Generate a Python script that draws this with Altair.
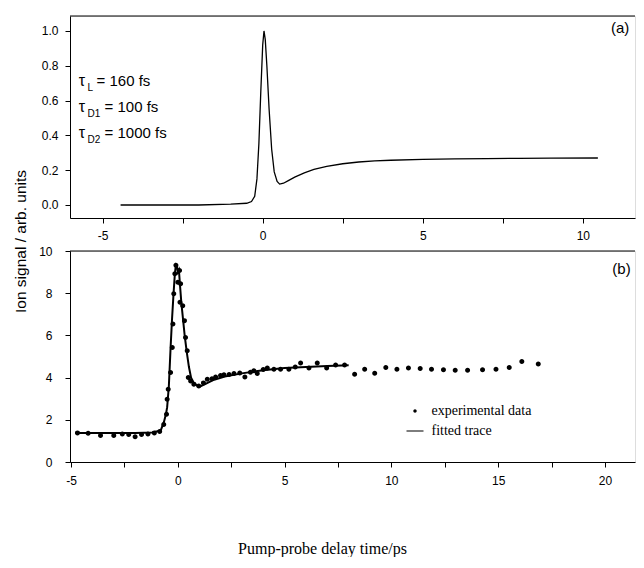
import altair as alt
import pandas as pd

# ---------------- panel (a): simulated trace ----------------
a_t = [-4.44, -3.0, -2.0, -1.0, -0.5, -0.35, -0.25, -0.18, -0.12, -0.06, 0.0, 0.04,
       0.08, 0.13, 0.2, 0.28, 0.36, 0.45, 0.53, 0.65, 0.8, 1.0, 1.3, 1.6, 2.0, 2.5,
       3.0, 3.5, 4.0, 5.0, 6.0, 7.0, 8.0, 9.0, 10.47]
a_s = [0.0, 0.0, 0.0, 0.005, 0.01, 0.02, 0.05, 0.15, 0.35, 0.65, 0.92, 1.0,
       0.95, 0.8, 0.55, 0.32, 0.19, 0.135, 0.12, 0.125, 0.14, 0.16, 0.185, 0.205, 0.222, 0.237,
       0.247, 0.253, 0.257, 0.262, 0.265, 0.267, 0.268, 0.269, 0.27]

# ---------------- panel (b): fitted trace ----------------
fit_t = [-4.8, -3.0, -2.0, -1.2, -0.8, -0.65, -0.55, -0.5, -0.42, -0.34, -0.27, -0.2,
         -0.14, -0.09, -0.04, 0.0, 0.05, 0.1, 0.16, 0.24, 0.32, 0.42, 0.52, 0.62, 0.75,
         0.9, 1.05, 1.3, 1.7, 2.2, 3.0, 4.0, 5.0, 6.0, 7.0, 8.0]
fit_s = [1.38, 1.38, 1.38, 1.4, 1.5, 1.9, 2.3, 2.6, 3.6, 5.4, 6.8, 8.0,
         8.9, 9.35, 9.3, 9.0, 9.1, 8.4, 7.6, 6.8, 6.0, 5.2, 4.5, 4.0, 3.75,
         3.62, 3.58, 3.7, 3.9, 4.05, 4.2, 4.35, 4.45, 4.5, 4.55, 4.58]

# ---------------- panel (b): experimental data ----------------
exp_t = [-4.7, -4.2, -3.62, -3.0, -2.6, -2.3, -2.0, -1.7, -1.4, -1.1, -0.85, -0.66,
         -0.53, -0.5, -0.45, -0.34, -0.26, -0.23, -0.19, -0.14, -0.09, 0.0, 0.08, 0.13,
         0.1, 0.23, 0.31, 0.36, 0.44, 0.49, 0.6, 0.75, 0.98, 1.2, 1.38, 1.6, 1.77, 2.0,
         2.16, 2.4, 2.63, 2.9, 3.14, 3.4, 3.56, 3.72, 4.0, 4.19, 4.5, 4.81, 5.2, 5.5,
         5.75, 6.14, 6.53, 6.97, 7.39, 7.81, 8.28, 8.75, 9.22, 9.74, 10.26, 10.8, 11.35,
         11.88, 12.44, 12.99, 13.57, 14.27, 14.9, 15.52, 16.11, 16.88]
exp_s = [1.38, 1.36, 1.26, 1.26, 1.33, 1.3, 1.2, 1.3, 1.33, 1.38, 1.45, 1.78,
         2.26, 2.97, 3.45, 4.24, 5.43, 6.54, 7.97, 8.92, 9.32, 8.52, 9.08, 8.45,
         7.57, 7.41, 6.7, 5.9, 5.27, 4.0, 3.84, 3.69, 3.6, 3.75, 3.92, 3.95, 4.03, 4.1,
         4.13, 4.15, 4.19, 4.22, 4.03, 4.25, 4.32, 4.19, 4.38, 4.45, 4.4, 4.4, 4.4, 4.5,
         4.69, 4.45, 4.69, 4.45, 4.6, 4.6, 4.16, 4.4, 4.21, 4.48, 4.4, 4.45, 4.43,
         4.4, 4.37, 4.35, 4.35, 4.37, 4.4, 4.48, 4.76, 4.64]

# ---------------- annotations ----------------
tau_sym = ["τ", "τ", "τ"]
tau_sub = ["L", "D1", "D2"]
tau_rest = ["= 160 fs", "= 100 fs", "= 1000 fs"]
tau_y = [0.713, 0.563, 0.414]
tau_sub_y = [0.672, 0.522, 0.373]
tau_x = [-5.75, -5.75, -5.75]
tau_sub_x = [-5.47, -5.47, -5.47]
tau_rest_x = [-5.19, -4.94, -4.94]

series_names = ["experimental data", "fitted trace"]

SANS = "Liberation Sans"
SERIF = "Liberation Serif"

df_a = pd.DataFrame({"t": a_t, "s": a_s})
df_fit = pd.DataFrame({"t": fit_t, "s": fit_s})
df_exp = pd.DataFrame({"t": exp_t, "s": exp_s, "series": series_names[0]})
df_tau = pd.DataFrame({"x": tau_x, "y": tau_y, "txt": tau_sym})
df_sub = pd.DataFrame({"x": tau_sub_x, "y": tau_sub_y, "txt": tau_sub})
df_rest = pd.DataFrame({"x": tau_rest_x, "y": tau_y, "txt": tau_rest})
df_pa = pd.DataFrame({"x": [10.88], "y": [1.017], "txt": ["(a)"]})
df_pb = pd.DataFrame({"x": [20.35], "y": [9.15], "txt": ["(b)"]})

W = 565
HA = 202
HB = 211
xa = alt.Scale(domain=[-6.02, 11.63], nice=False, zero=False)
ya = alt.Scale(domain=[-0.0747, 1.086], nice=False, zero=False)
xb = alt.Scale(domain=[-5.05, 21.41], nice=False, zero=False)
yb = alt.Scale(domain=[0, 10], nice=False, zero=False)

axis_style = dict(grid=False, domainColor="black", tickColor="black", labelColor="black",
                  labelFont=SANS, labelFontSize=12, tickSize=5, domainWidth=1, tickWidth=1)

xticks_a = [-5, -2.5, 0, 2.5, 5, 7.5, 10]
xticks_b = [-5, -2.5, 0, 2.5, 5, 7.5, 10, 12.5, 15, 17.5, 20]
lbl5 = "datum.value % 5 == 0 ? '' + datum.value : ''"


def top_border(width):
    return alt.Chart(pd.DataFrame({"k": [0]})).mark_rule(color="black", strokeWidth=1).encode(
        x=alt.value(0), x2=alt.value(width), y=alt.value(0))


# ---------- top chart ----------
line_a = alt.Chart(df_a).mark_line(color="black", strokeWidth=1.3).encode(
    x=alt.X("t:Q", scale=xa, axis=alt.Axis(orient="bottom", values=xticks_a, labelExpr=lbl5,
                                           title=None, labelPadding=7, **axis_style)),
    y=alt.Y("s:Q", scale=ya, axis=alt.Axis(orient="left", values=[0, 0.2, 0.4, 0.6, 0.8, 1.0],
                                           format=".1f", title=None, labelPadding=7, **axis_style)),
)


def txt_layer(df, xs, ys, size):
    return alt.Chart(df).mark_text(align="left", baseline="middle", font=SANS, fontSize=size,
                                   color="black").encode(
        x=alt.X("x:Q", scale=xs), y=alt.Y("y:Q", scale=ys), text="txt:N")


top = alt.layer(
    line_a,
    top_border(W),
    txt_layer(df_pa, xa, ya, 15),
    txt_layer(df_tau, xa, ya, 16),
    txt_layer(df_sub, xa, ya, 10),
    txt_layer(df_rest, xa, ya, 15),
).properties(width=W, height=HA)

# ---------- bottom chart ----------
circle_path = "M-0.2,0A0.2,0.2 0 1,0 0.2,0A0.2,0.2 0 1,0 -0.2,0Z"
line_path = "M-1,-0.06L1,-0.06L1,0.06L-1,0.06Z"

fit_line = alt.Chart(df_fit).mark_line(color="black", strokeWidth=2).encode(
    x=alt.X("t:Q", scale=xb, axis=alt.Axis(
        orient="bottom", values=xticks_b, labelExpr=lbl5, labelPadding=8,
        title="Pump-probe delay time/ps", titleFont=SERIF, titleFontSize=16,
        titleFontWeight="normal", titleColor="black", titleX=252, titleY=91,
        titleBaseline="alphabetic", titleAlign="center", **axis_style)),
    y=alt.Y("s:Q", scale=yb, axis=alt.Axis(
        orient="left", values=list(range(0, 11)),
        labelExpr="datum.value % 2 == 0 ? '' + datum.value : ''", labelPadding=13,
        title="Ion signal / arb. units", titleFont=SANS, titleFontSize=15.5,
        titleFontWeight="normal", titleColor="black", titleAngle=270, titleX=-45,
        titleY=-10, titleBaseline="alphabetic", titleAlign="center", **axis_style)),
)
pts = alt.Chart(df_exp).mark_point(filled=True, size=289, color="black", stroke="black",
                                   strokeWidth=1.6, opacity=1).encode(
    x=alt.X("t:Q", scale=xb),
    y=alt.Y("s:Q", scale=yb),
    shape=alt.Shape("series:N", scale=alt.Scale(domain=series_names, range=[circle_path, line_path]),
                    legend=alt.Legend(title=None, orient="none", legendX=335.5, legendY=385.5,
                                      symbolSize=289, symbolStrokeColor="black",
                                      symbolFillColor="black", symbolStrokeWidth=1.2,
                                      labelFont=SERIF, labelFontSize=14, labelColor="black",
                                      labelOffset=7, rowPadding=3, padding=0)),
)
bottom = alt.layer(fit_line, pts, top_border(W), txt_layer(df_pb, xb, yb, 15)).properties(
    width=W, height=HB)

chart = alt.vconcat(top, bottom, spacing=33, bounds="flush").properties(
    padding={"left": 4, "top": 7, "right": 0, "bottom": 0}
).configure_view(stroke=None).configure(background="white")

chart.save("out.html", embed_options={"renderer": "svg", "actions": False})
